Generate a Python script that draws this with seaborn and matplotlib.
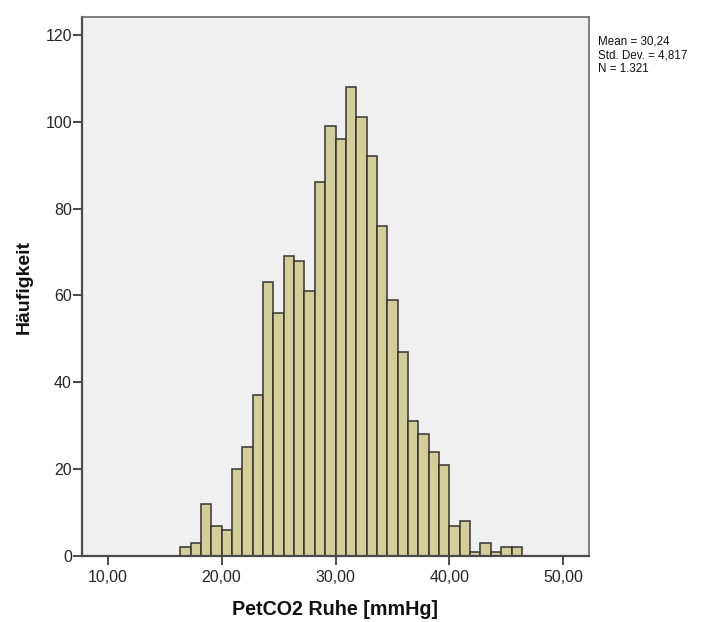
import numpy as np
import pandas as pd
import matplotlib
matplotlib.use("Agg")
import matplotlib.pyplot as plt
from matplotlib.ticker import FuncFormatter, FixedLocator
import seaborn as sns

# Frequency counts per class of PetCO2 at rest (mmHg)
counts = [2, 3, 12, 7, 6, 20, 25, 37, 63, 56, 69, 68, 61, 86, 99, 96, 108,
          101, 92, 76, 59, 47, 31, 28, 24, 21, 7, 8, 1, 3, 1, 2, 2]
bin_start = 20 - 4 * 10 / 11
bin_width = 10 / 11

x_ticks = [10, 20, 30, 40, 50]
y_ticks = [0, 20, 40, 60, 80, 100, 120]

stats_lines = ["Mean = 30,24", "Std. Dev. = 4,817", "N = 1.321"]
x_label = "PetCO2 Ruhe [mmHg]"
y_label = "Häufigkeit"

edges = [bin_start + bin_width * i for i in range(len(counts) + 1)]
centers = [(a + b) / 2 for a, b in zip(edges[:-1], edges[1:])]
df = pd.DataFrame({"value": centers, "count": counts})

sns.set_style("white")
plt.rcParams["font.family"] = ["Liberation Sans", "DejaVu Sans"]

W, H = 703, 622
fig = plt.figure(figsize=(W / 100, H / 100), dpi=100)
ax = fig.add_axes([81.7 / W, 1 - 556 / H, (589.3 - 81.7) / W, (556 - 17) / H])
ax.set_facecolor("#f0f0f0")

sns.histplot(data=df, x="value", weights="count", bins=edges, ax=ax,
             color="#d3ce97", edgecolor="#333333", linewidth=1.1, alpha=1.0)

ax.set_xlim(7.72, 52.28)
ax.set_ylim(0, 124.1)

ax.xaxis.set_major_locator(FixedLocator(x_ticks))
ax.yaxis.set_major_locator(FixedLocator(y_ticks))
ax.xaxis.set_major_formatter(FuncFormatter(lambda v, p: f"{v:.2f}".replace(".", ",")))
ax.yaxis.set_major_formatter(FuncFormatter(lambda v, p: f"{v:.0f}"))

ax.tick_params(axis="both", which="major", direction="out", length=6.5, width=1.3,
               color="#3c3c3c", labelsize=11.5, labelcolor="#262626")
ax.tick_params(axis="y", pad=0.5, left=True)
ax.tick_params(axis="x", pad=3.5, bottom=True)

for side in ["left", "bottom"]:
    ax.spines[side].set_color("#4a4a4a")
    ax.spines[side].set_linewidth(1.6)
for side in ["top", "right"]:
    ax.spines[side].set_visible(True)
    ax.spines[side].set_color("#6a6a6a")
    ax.spines[side].set_linewidth(1.2)

ax.set_xlabel(x_label, fontsize=14.2, fontweight="bold", color="#111111", labelpad=11)
ax.set_ylabel(y_label, fontsize=14, fontweight="bold", color="#111111", labelpad=9)

# Summary statistics beside the plot frame
for i, line in enumerate(stats_lines):
    fig.text(597.5 / W, 1 - (45.0 + 13.5 * i) / H, line, fontsize=8.4,
             color="#111111", va="baseline", ha="left")

fig.savefig("out.png", dpi=100)
